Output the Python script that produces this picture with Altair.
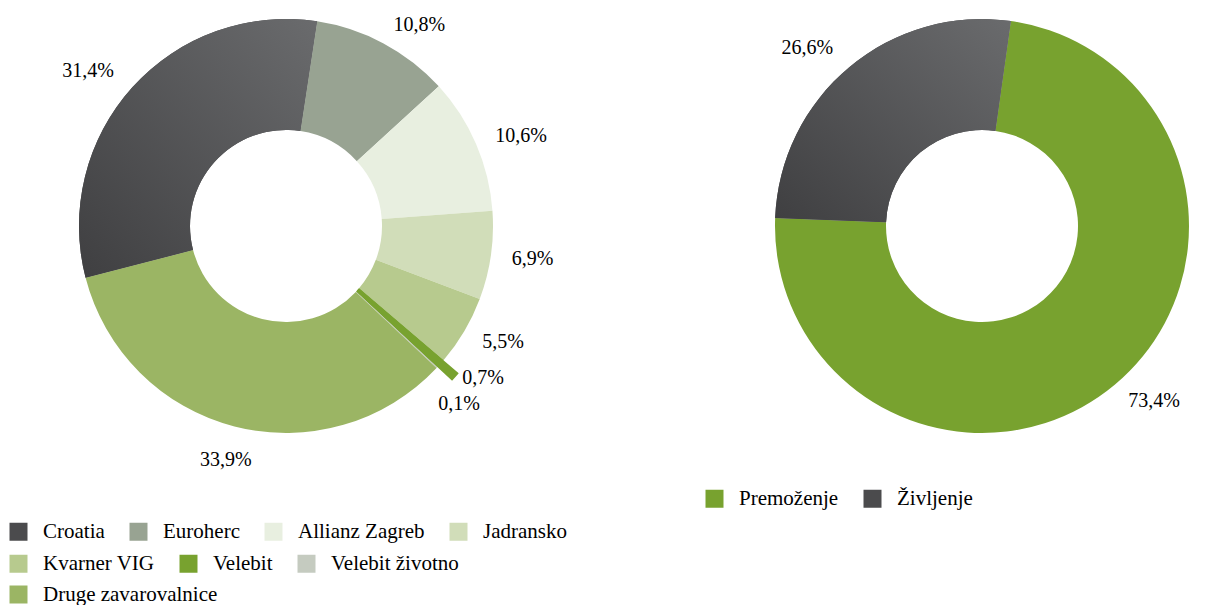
import math
import altair as alt
import pandas as pd

# ---------------- data ----------------
companies = ["Croatia", "Euroherc", "Allianz Zagreb", "Jadransko",
             "Kvarner VIG", "Velebit", "Velebit životno", "Druge zavarovalnice"]
company_shares = [31.4, 10.8, 10.6, 6.9, 5.5, 0.7, 0.1, 33.9]
company_legend_row = [0, 0, 0, 0, 1, 1, 1, 2]

segments = ["Premoženje", "Življenje"]
segment_shares = [73.4, 26.6]

# ---------------- styles ----------------
company_colors = ["#4b4b4d", "#98a392", "#e8efe0", "#d1ddb9",
                  "#b7ca8e", "#78a22f", "#c5cbc0", "#9bb564"]
segment_colors = ["#78a22f", "#4b4b4d"]
FONT = "Liberation Serif"
LABEL_SIZE = 20
LEGEND_SIZE = 21
R_OUT, R_IN, R_LABEL = 207, 96, 228
LEFT_START_DEG = 255.5
RIGHT_START_DEG = 8.0


def fmt(v):
    return f"{v:.1f}".replace(".", ",") + "%"


def build_frame(names, values, start_deg, rows=None):
    total = sum(values)
    df = pd.DataFrame({"name": names, "value": values})
    df["end"] = df["value"].cumsum()
    df["start"] = df["end"] - df["value"]
    df["mid"] = (df["start"] + df["end"]) / 2
    df["label"] = [fmt(v) for v in values]
    ang = (start_deg + df["mid"] / total * 360) % 360
    df["side"] = ["right" if 15 < a < 165 else ("left" if 195 < a < 345 else "bottom")
                  for a in ang]
    if rows is not None:
        df["row"] = rows
    return df, total


def theta_scale(total, start_deg):
    a0 = math.radians(start_deg)
    return alt.Scale(domain=[0, total], range=[a0, a0 + 2 * math.pi])


def legend(x, y):
    return alt.Legend(title=None, orient="none", legendX=x, legendY=y,
                      direction="horizontal", symbolType="square", symbolSize=324,
                      symbolStrokeWidth=0, labelFont=FONT, labelFontSize=LEGEND_SIZE,
                      labelColor="#000000", labelOffset=14, columnPadding=23,
                      padding=0, labelLimit=400)


def dark_gradient():
    return alt.LinearGradient(
        gradient="linear",
        stops=[alt.GradientStop(color="#3f3f41", offset=0),
               alt.GradientStop(color="#6a6b6d", offset=1)],
        x1=0, y1=1, x2=1, y2=0)


def label_layers(df, sc, nudges):
    layers = []
    base_filter = " && ".join([f"datum.name != '{n}'" for n in nudges]) or "true"
    for side, align, r in [("right", "left", R_LABEL), ("left", "right", R_LABEL + 4),
                           ("bottom", "center", R_LABEL + 14)]:
        sub = df[df["side"] == side]
        if len(sub) == 0:
            continue
        layers.append(
            alt.Chart(df).transform_filter(f"datum.side == '{side}' && ({base_filter})")
            .mark_text(radius=r, align=align, baseline="middle", font=FONT,
                       fontSize=LABEL_SIZE, color="#000000")
            .encode(theta=alt.Theta("mid:Q", scale=sc), text="label:N")
        )
    for n, (ddx, ddy) in nudges.items():
        layers.append(
            alt.Chart(df).transform_filter(f"datum.name == '{n}'")
            .mark_text(radius=R_LABEL, align="left", baseline="middle", font=FONT,
                       fontSize=LABEL_SIZE, color="#000000", dx=ddx, dy=ddy)
            .encode(theta=alt.Theta("mid:Q", scale=sc), text="label:N")
        )
    return layers


# ---------------- left donut ----------------
dfl, total_l = build_frame(companies, company_shares, LEFT_START_DEG, company_legend_row)
sc_l = theta_scale(total_l, LEFT_START_DEG)

left_layers = []
legend_y = [513, 545, 576]
for g in range(3):
    idx = [i for i, r in enumerate(company_legend_row) if r == g]
    dom = [companies[i] for i in idx]
    rng = [company_colors[i] for i in idx]
    left_layers.append(
        alt.Chart(dfl).transform_filter(f"datum.row == {g}")
        .mark_arc(radius=R_OUT, radius2=R_IN)
        .encode(
            theta=alt.Theta("start:Q", scale=sc_l),
            theta2="end:Q",
            color=alt.Color("name:N", scale=alt.Scale(domain=dom, range=rng),
                            sort=dom, legend=legend(0, legend_y[g])),
        )
    )

# Croatia gradient overlay
left_layers.append(
    alt.Chart(dfl).transform_filter("datum.name == 'Croatia'")
    .mark_arc(radius=R_OUT, radius2=R_IN, fill=dark_gradient())
    .encode(theta=alt.Theta("start:Q", scale=sc_l), theta2="end:Q")
)
# exploded Velebit slice
left_layers.append(
    alt.Chart(dfl).transform_filter("datum.name == 'Velebit'")
    .mark_arc(radius=R_OUT + 20, radius2=R_IN, fill=company_colors[5])
    .encode(theta=alt.Theta("start:Q", scale=sc_l), theta2="end:Q")
)
left_layers += label_layers(dfl, sc_l, {"Velebit": (6, 0), "Velebit životno": (-14, 22)})

left = alt.layer(*left_layers).resolve_scale(color="independent").properties(
    width=556, height=436)

# ---------------- right donut ----------------
dfr, total_r = build_frame(segments, segment_shares, RIGHT_START_DEG)
sc_r = theta_scale(total_r, RIGHT_START_DEG)

right_layers = [
    alt.Chart(dfr).mark_arc(radius=R_OUT, radius2=R_IN).encode(
        theta=alt.Theta("start:Q", scale=sc_r),
        theta2="end:Q",
        color=alt.Color("name:N", scale=alt.Scale(domain=segments, range=segment_colors),
                        sort=segments, legend=legend(-68, 480)),
    ),
    alt.Chart(dfr).transform_filter("datum.name == 'Življenje'")
    .mark_arc(radius=R_OUT, radius2=R_IN, fill=dark_gradient())
    .encode(theta=alt.Theta("start:Q", scale=sc_r), theta2="end:Q"),
]
right_layers += label_layers(dfr, sc_r, {})

right = alt.layer(*right_layers).properties(width=420, height=436)

chart = alt.hconcat(left, right, spacing=208, bounds="flush").properties(
    padding=0
).configure_view(stroke=None).resolve_scale(color="independent", theta="independent")

chart.save("out.html", embed_options={"renderer": "svg", "actions": False})
